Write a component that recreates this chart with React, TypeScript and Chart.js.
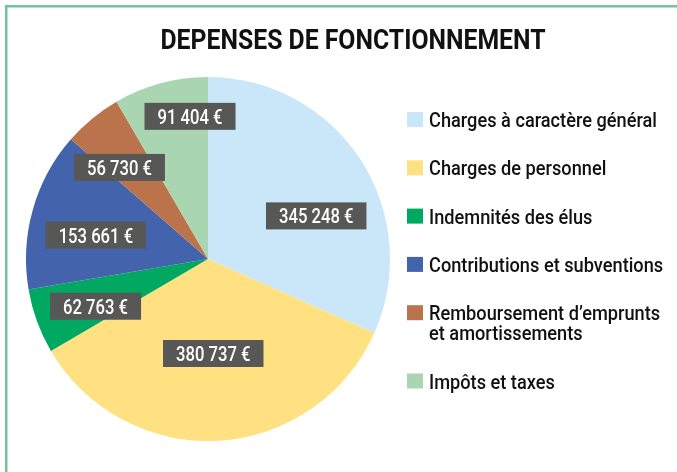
import { useEffect, useRef } from "react";
import { Chart, registerables } from "chart.js";

Chart.register(...registerables);

const chartTitle = "DEPENSES DE FONCTIONNEMENT";
const categories = [
  "Charges à caractère général",
  "Charges de personnel",
  "Indemnités des élus",
  "Contributions et subventions",
  "Remboursement d’emprunts et amortissements",
  "Impôts et taxes",
];
const legendLines = [
  ["Charges à caractère général"],
  ["Charges de personnel"],
  ["Indemnités des élus"],
  ["Contributions et subventions"],
  ["Remboursement d’emprunts", "et amortissements"],
  ["Impôts et taxes"],
];
const values = [345248, 380737, 62763, 153661, 56730, 91404];
const colors = ["#c9e7f8", "#ffe182", "#00a862", "#4363ad", "#bb734b", "#a9d5b1"];

// label placement tweaks (layout only)
const labelAngleShift = [11.3, 0, -2.8, -3.7, -4.5, 7.9];
const labelRadius = [0.64, 0.52, 0.67, 0.63, 0.7, 0.79];

const FONT = 'Roboto, "DejaVu Sans", sans-serif';

function fmt(v: number) {
  return String(v).replace(/\B(?=(\d{3})+(?!\d))/g, " ") + " €";
}

// draw text compressed horizontally by factor sx (condensed look)
function condensedText(ctx: any, text: string, x: number, y: number, sx: number, align: string) {
  const w = ctx.measureText(text).width * sx;
  let left = x;
  if (align === "center") left = x - w / 2;
  else if (align === "right") left = x - w;
  ctx.save();
  ctx.translate(left, y);
  ctx.scale(sx, 1);
  ctx.textAlign = "left";
  ctx.fillText(text, 0, 0);
  ctx.restore();
}

const framePlugin = {
  id: "frame",
  beforeDraw(chart: any) {
    const ctx = chart.ctx;
    ctx.save();
    ctx.fillStyle = "#ffffff";
    ctx.fillRect(0, 0, chart.width, chart.height);
    ctx.strokeStyle = "#6fc69e";
    ctx.lineWidth = 2.5;
    ctx.strokeRect(6.25, 6.25, 800, 600);
    ctx.fillStyle = "#111111";
    ctx.font = "bold 28px " + FONT;
    ctx.textBaseline = "alphabetic";
    const sx = 385 / ctx.measureText(chartTitle).width;
    condensedText(ctx, chartTitle, 353, 49, sx, "center");
    ctx.restore();
  },
};

const labelPlugin = {
  id: "sliceLabels",
  afterDatasetsDraw(chart: any) {
    const ctx = chart.ctx;
    const meta = chart.getDatasetMeta(0);
    ctx.save();
    ctx.font = "500 21px " + FONT;
    ctx.textBaseline = "alphabetic";
    const sx = 65 / ctx.measureText(fmt(91404)).width;
    meta.data.forEach((arc: any, i: number) => {
      const p = arc.getProps(["x", "y", "startAngle", "endAngle", "outerRadius"], true);
      const mid = (p.startAngle + p.endAngle) / 2 + (labelAngleShift[i] * Math.PI) / 180;
      const r = p.outerRadius * labelRadius[i];
      const cx = p.x + Math.cos(mid) * r;
      const cy = p.y + Math.sin(mid) * r;
      const text = fmt(chart.data.datasets[0].data[i]);
      const tw = ctx.measureText(text).width * sx;
      const w = tw + 26;
      const h = 27;
      ctx.fillStyle = "#575756";
      ctx.fillRect(cx - w / 2, cy - h / 2, w, h);
      ctx.fillStyle = "#ffffff";
      condensedText(ctx, text, cx, cy + 7.5, sx, "center");
    });
    ctx.restore();
  },
};

const legendPlugin = {
  id: "sideLegend",
  afterDraw(chart: any) {
    const ctx = chart.ctx;
    const ds = chart.data.datasets[0];
    ctx.save();
    ctx.font = "500 20px " + FONT;
    ctx.textBaseline = "alphabetic";
    const sx = 228 / ctx.measureText(legendLines[0][0]).width;
    let extra = 0;
    legendLines.forEach((lines, i) => {
      const base = 127 + i * 48.3 + extra;
      ctx.fillStyle = ds.backgroundColor[i];
      ctx.fillRect(407, base - 15, 16, 15);
      ctx.fillStyle = "#111111";
      lines.forEach((ln, j) => condensedText(ctx, ln, 429, base + j * 20, sx, "left"));
      extra += (lines.length - 1) * 20;
    });
    ctx.restore();
  },
};

export default function App() {
  const ref = useRef<HTMLCanvasElement | null>(null);
  useEffect(() => {
    if (!ref.current) return;
    const chart = new Chart(ref.current, {
      type: "pie",
      data: {
        labels: categories,
        datasets: [
          {
            data: values,
            backgroundColor: colors,
            borderWidth: 0,
          },
        ],
      },
      options: {
        responsive: false,
        animation: false,
        layout: { padding: { left: 26, right: 287, top: 77, bottom: 31 } },
        plugins: {
          legend: { display: false },
          title: { display: false },
          tooltip: { enabled: false },
        },
      },
      plugins: [framePlugin, labelPlugin, legendPlugin],
    });
    return () => chart.destroy();
  }, []);
  return (
    <div style={{ position: "absolute", left: 0, top: 0, width: 677, height: 472, overflow: "hidden" }}>
      <canvas ref={ref} width={677} height={472} style={{ display: "block" }} />
    </div>
  );
}
